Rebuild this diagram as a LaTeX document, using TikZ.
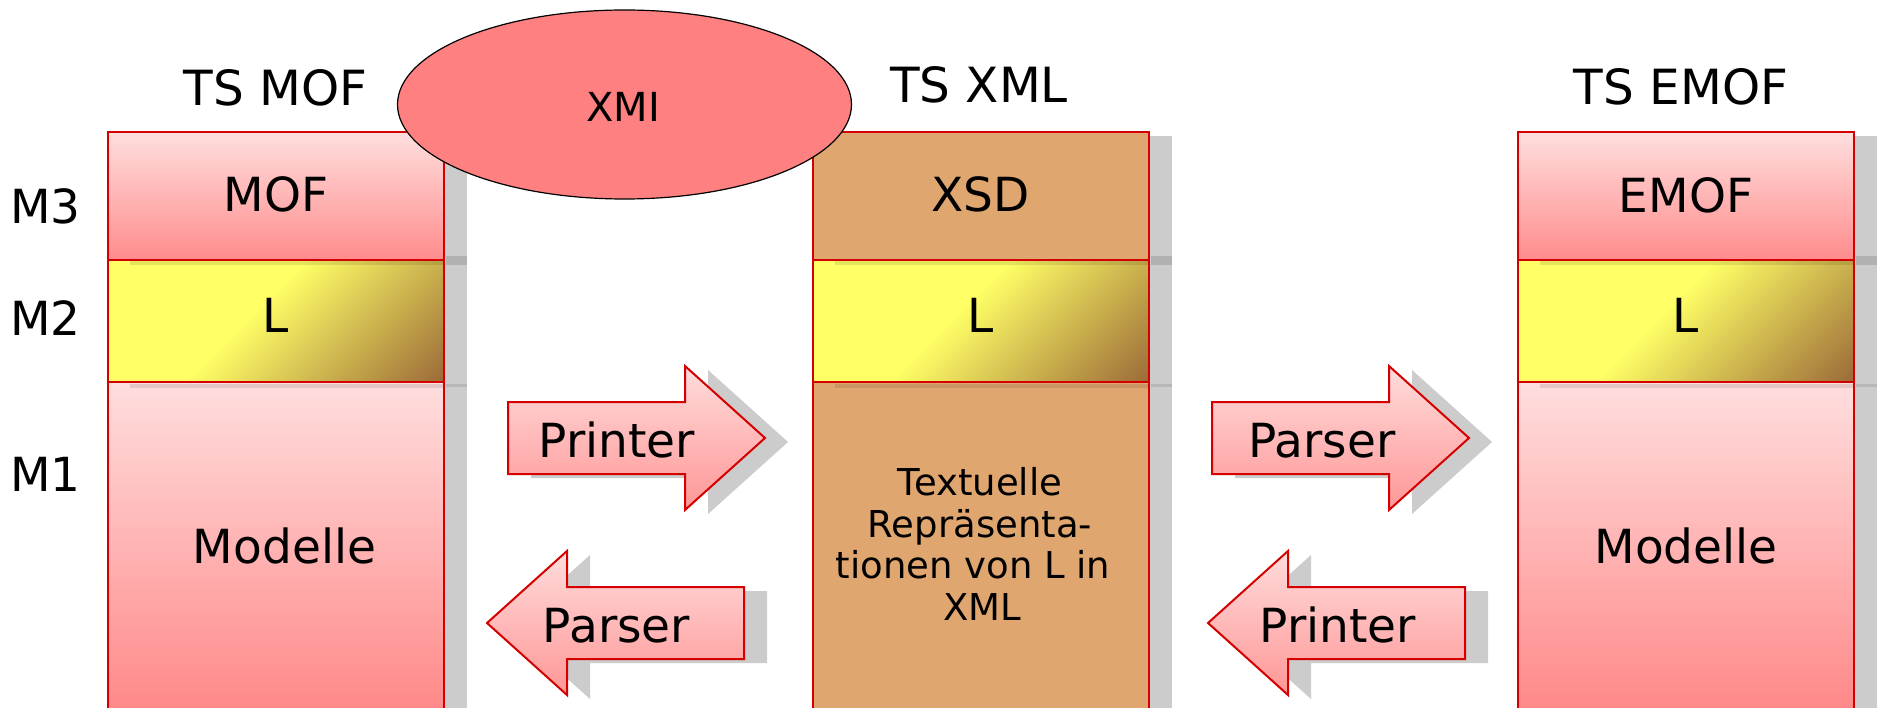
\documentclass[tikz,border=0pt]{standalone}
\usepackage{fontspec}
\setmainfont{DejaVu Sans}
\usetikzlibrary{shapes.geometric}
\definecolor{bred}{RGB}{212,0,0}
\definecolor{pinkT}{RGB}{255,222,222}
\definecolor{pinkB}{RGB}{255,140,140}
\definecolor{arrT}{RGB}{255,220,220}
\definecolor{arrB}{RGB}{255,150,150}
\definecolor{xtan}{RGB}{224,166,112}
\definecolor{goldY}{RGB}{255,255,102}
\definecolor{goldB}{RGB}{155,106,56}
\definecolor{shad}{RGB}{204,204,204}
\definecolor{xmifill}{RGB}{255,128,128}
\tikzset{
  colbox/.style={draw=bred, line width=2.5pt},
  pinkbox/.style={top color=pinkT, bottom color=pinkB},
  pinklong/.style={top color=pinkT, bottom color=pinkB!92!red},
  tanbox/.style={fill=xtan},
  shadowfill/.style={fill=shad},
  arrowbody/.style={draw=bred, line width=2pt, top color=arrT, bottom color=arrB},
  bigtext/.style={font=\fontsize{47}{56}\selectfont, anchor=base, inner sep=0pt},
  titletext/.style={font=\fontsize{48.5}{58}\selectfont, anchor=base, inner sep=0pt},
  smalltext/.style={font=\fontsize{37}{42}\selectfont, anchor=base, inner sep=0pt},
  xmitext/.style={font=\fontsize{40}{48}\selectfont, anchor=base, inner sep=0pt},
}
% column: #1 = left x, #2 = style of M3 box, #3 = style of M1 box
\newcommand\drawcol[3]{%
  \fill[shadowfill] (#1+23,136) rectangle (#1+359,740);
  \path[#2] (#1,132) rectangle (#1+336,260);
  \draw[colbox] (#1,132) rectangle (#1+336,260);
  \begin{scope}
    \clip (#1,260) rectangle (#1+336,382);
    \fill[goldY] (#1,260) rectangle (#1+336,382);
    \foreach \i in {0,...,52}{%
      \pgfmathsetmacro\cc{#1+196+\i*5}%
      \pgfmathsetmacro\pp{100*\i/52}%
      \fill[goldB!\pp!goldY] (\cc,260) -- (\cc+6,260) -- (\cc+6-122,382) -- (\cc-122,382) -- cycle;
    }
  \end{scope}
  \draw[colbox] (#1,260) rectangle (#1+336,382);
  \path[#3] (#1,382) rectangle (#1+336,740);
  \draw[colbox] (#1,382) rectangle (#1+336,740);
  \fill[black, opacity=0.13] (#1+337.5,256) rectangle (#1+359,265);
  \fill[black, opacity=0.10] (#1+22,261.5) rectangle (#1+334.5,265.5);
  \fill[black, opacity=0.10] (#1+337.5,384) rectangle (#1+359,387);
  \fill[black, opacity=0.10] (#1+22,383.5) rectangle (#1+334.5,388);
}
\newcommand\rarrowpath[2]{(#1,#2) -- ++(-80,-72) -- ++(0,36) -- ++(-177,0) -- ++(0,72) -- ++(177,0) -- ++(0,36) -- cycle}
\newcommand\larrowpath[2]{(#1,#2) -- ++(80,-72) -- ++(0,36) -- ++(177,0) -- ++(0,72) -- ++(-177,0) -- ++(0,36) -- cycle}
\begin{document}
\begin{tikzpicture}[x=1pt,y=-1pt]
\useasboundingbox (0,0) rectangle (1878,708);
\fill[white] (0,0) rectangle (1878,708);

% columns
\drawcol{108}{pinkbox}{pinklong}
\drawcol{813}{tanbox}{tanbox}
\drawcol{1518}{pinkbox}{pinklong}

% arrow shadows
\fill[shadowfill, shift={(23,4)}] \rarrowpath{765}{438};
\fill[shadowfill, shift={(23,4)}] \larrowpath{487}{623};
\fill[shadowfill, shift={(23,4)}] \rarrowpath{1469}{438};
\fill[shadowfill, shift={(23,4)}] \larrowpath{1208}{623};
% arrows
\path[arrowbody] \rarrowpath{765}{438};
\path[arrowbody] \larrowpath{487}{623};
\path[arrowbody] \rarrowpath{1469}{438};
\path[arrowbody] \larrowpath{1208}{623};

% XMI ellipse
\node (xmi) [ellipse, draw=black, line width=1.2pt, fill=xmifill, minimum width=454pt, minimum height=189pt, inner sep=0pt] at (624.5,104.5) {};
\node[xmitext] (xmilabel) at (623,122) {XMI};

% titles
\node[titletext] (tsmof) at (275.5,106) {TS MOF};
\node[titletext] (tsxml) at (979,103) {TS XML};
\node[titletext] (tsemof) at (1681,105) {TS EMOF};

% level labels
\node[bigtext] (m3) at (45.5,224) {M3};
\node[bigtext] (m2) at (45.5,336) {M2};
\node[bigtext] (m1) at (45.5,491) {M1};

% left column texts
\node[bigtext] (mof) at (276,212) {MOF};
\node[bigtext] (lmof) at (276,333) {L};
\node[bigtext] (modl) at (284.5,563) {Modelle};
% middle column texts
\node[bigtext] (xsd) at (980.5,212) {XSD};
\node[bigtext] (lxml) at (980.5,333) {L};
\node[smalltext] (t1) at (980,495) {Textuelle};
\node[smalltext] (t2) at (980,537) {Repräsenta-};
\node[smalltext] (t3) at (973,578) {tionen von L in};
\node[smalltext] (t4) at (982,620) {XML};
% right column texts
\node[bigtext] (emof) at (1686,213) {EMOF};
\node[bigtext] (lemof) at (1686,333) {L};
\node[bigtext] (modr) at (1686,563) {Modelle};

% arrow labels
\node[bigtext] (pr1) at (617,457) {Printer};
\node[bigtext] (pa1) at (616.5,642) {Parser};
\node[bigtext] (pa2) at (1322,457) {Parser};
\node[bigtext] (pr2) at (1338,642) {Printer};
\end{tikzpicture}
\end{document}
